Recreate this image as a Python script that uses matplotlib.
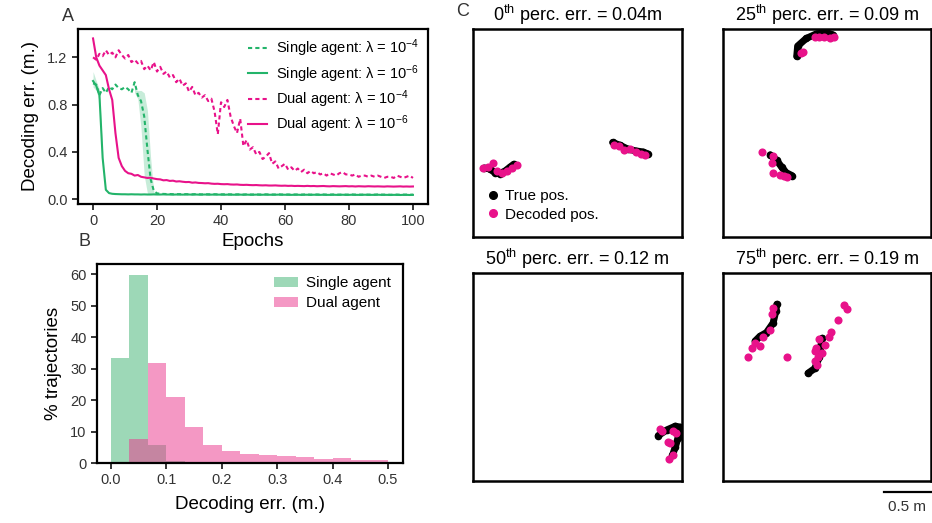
import numpy as np
import matplotlib
matplotlib.use('Agg')
import matplotlib.pyplot as plt
from matplotlib.lines import Line2D

plt.rcParams['font.family'] = ['Liberation Sans', 'DejaVu Sans']
plt.rcParams['mathtext.default'] = 'regular'

GREEN = '#23b46a'
PINK = '#e8128a'
TICK_GREY = '#333333'

# ---- Panel A: decoding error over training epochs ----
epochs = list(range(101))

single_l6 = [1.00, 0.96, 0.88, 0.35, 0.08, 0.052, 0.046, 0.044, 0.043, 0.042,
             0.042, 0.041, 0.042, 0.041, 0.041, 0.040, 0.041, 0.040, 0.040, 0.041,
             0.040, 0.040, 0.041, 0.040, 0.040, 0.039, 0.040, 0.040, 0.039, 0.040,
             0.040, 0.039, 0.040, 0.039, 0.039, 0.040, 0.039, 0.039, 0.040, 0.039,
             0.039, 0.038, 0.039, 0.039, 0.038, 0.039, 0.039, 0.038, 0.039, 0.038,
             0.038, 0.039, 0.038, 0.038, 0.039, 0.038, 0.038, 0.038, 0.039, 0.038,
             0.038, 0.038, 0.037, 0.038, 0.038, 0.037, 0.038, 0.038, 0.037, 0.038,
             0.038, 0.037, 0.038, 0.037, 0.037, 0.038, 0.037, 0.037, 0.038, 0.037,
             0.037, 0.038, 0.037, 0.037, 0.037, 0.038, 0.037, 0.037, 0.037, 0.038,
             0.037, 0.037, 0.037, 0.036, 0.037, 0.037, 0.036, 0.037, 0.037, 0.036, 0.037]

single_l4 = [0.98, 0.97, 0.88, 0.94, 0.90, 0.95, 0.93, 0.97, 0.94, 0.93,
             0.95, 0.93, 0.90, 0.99, 0.88, 0.83, 0.70, 0.42, 0.17, 0.07,
             0.050, 0.046, 0.045, 0.044, 0.044, 0.043, 0.043, 0.043, 0.042, 0.043,
             0.042, 0.042, 0.043, 0.042, 0.041, 0.042, 0.042, 0.041, 0.042, 0.041,
             0.041, 0.042, 0.041, 0.041, 0.040, 0.041, 0.041, 0.040, 0.041, 0.040,
             0.040, 0.041, 0.040, 0.040, 0.041, 0.040, 0.040, 0.040, 0.041, 0.040,
             0.040, 0.040, 0.039, 0.040, 0.040, 0.039, 0.040, 0.040, 0.039, 0.040,
             0.040, 0.039, 0.040, 0.039, 0.039, 0.040, 0.039, 0.039, 0.040, 0.039,
             0.039, 0.040, 0.039, 0.039, 0.039, 0.040, 0.039, 0.039, 0.039, 0.040,
             0.039, 0.039, 0.039, 0.038, 0.039, 0.039, 0.038, 0.039, 0.039, 0.038, 0.039]

dual_l6 = [1.36, 1.20, 1.13, 1.09, 1.05, 0.93, 0.84, 0.56, 0.35, 0.28,
           0.24, 0.22, 0.215, 0.20, 0.205, 0.19, 0.185, 0.18, 0.182, 0.175,
           0.17, 0.168, 0.16, 0.162, 0.155, 0.157, 0.15, 0.152, 0.148, 0.145,
           0.146, 0.14, 0.142, 0.138, 0.137, 0.135, 0.136, 0.132, 0.130, 0.131,
           0.128, 0.127, 0.128, 0.125, 0.124, 0.125, 0.122, 0.121, 0.122, 0.120,
           0.119, 0.120, 0.118, 0.117, 0.118, 0.116, 0.116, 0.117, 0.115, 0.114,
           0.115, 0.113, 0.114, 0.112, 0.113, 0.112, 0.111, 0.113, 0.111, 0.112,
           0.110, 0.111, 0.112, 0.110, 0.109, 0.111, 0.110, 0.109, 0.110, 0.111,
           0.109, 0.110, 0.108, 0.110, 0.109, 0.108, 0.110, 0.109, 0.108, 0.109,
           0.108, 0.107, 0.109, 0.108, 0.107, 0.108, 0.109, 0.107, 0.108, 0.107, 0.108]

dual_l4 = [1.20, 1.18, 1.23, 1.21, 1.26, 1.22, 1.24, 1.20, 1.26, 1.22,
           1.19, 1.22, 1.16, 1.18, 1.15, 1.17, 1.10, 1.13, 1.09, 1.16,
           1.08, 1.12, 1.06, 1.08, 1.03, 1.05, 0.99, 1.02, 0.96, 0.98,
           0.91, 0.95, 0.88, 0.90, 0.86, 0.88, 0.83, 0.85, 0.74, 0.55,
           0.82, 0.78, 0.84, 0.70, 0.62, 0.56, 0.68, 0.45, 0.50, 0.42,
           0.44, 0.38, 0.40, 0.34, 0.36, 0.39, 0.30, 0.32, 0.26, 0.28,
           0.30, 0.25, 0.27, 0.24, 0.26, 0.23, 0.25, 0.22, 0.24, 0.22,
           0.23, 0.21, 0.22, 0.20, 0.22, 0.21, 0.20, 0.22, 0.23, 0.21,
           0.21, 0.20, 0.21, 0.19, 0.20, 0.20, 0.19, 0.20, 0.19, 0.20,
           0.19, 0.18, 0.19, 0.19, 0.18, 0.20, 0.19, 0.18, 0.19, 0.20, 0.18]

# spread across seeds around the sharp drops
band_l4_epochs = [13, 14, 15, 16, 17, 18, 19, 20]
band_l4_upper = [0.93, 0.92, 0.92, 0.90, 0.75, 0.35, 0.06, 0.05]
band_l4_lower = [0.90, 0.85, 0.60, 0.20, 0.05, 0.045, 0.04, 0.04]
band_l6_epochs = [0, 1, 2, 3]
band_l6_upper = [1.08, 1.00, 0.93, 0.40]
band_l6_lower = [0.95, 0.92, 0.82, 0.30]

# ---- Panel B: histogram of decoding error ----
bin_edges = np.linspace(0, 0.5, 16)
single_hist = [33.5, 59.7, 5.8, 0.5, 0, 0, 0, 0, 0, 0, 0, 0, 0, 0, 0]
dual_hist = [0, 7.6, 31.9, 21.1, 11.4, 5.8, 3.9, 3.0, 2.7, 2.2, 1.9, 1.4, 1.6, 1.05, 1.05]

# ---- Panel C: example trajectories (metres, arena 2.2 m) ----
titles = ['0$^{th}$ perc. err. = 0.04m', '25$^{th}$ perc. err. = 0.09 m',
          '50$^{th}$ perc. err. = 0.12 m', '75$^{th}$ perc. err. = 0.19 m']

true_x = [
    [[0.12, 0.18, 0.23, 0.28, 0.34, 0.39, 0.43],
     [1.47, 1.55, 1.63, 1.72, 1.79, 1.84]],
    [[0.78, 0.79, 0.88, 0.99, 1.10, 1.16],
     [0.50, 0.57, 0.62, 0.67, 0.73]],
    [[1.95, 2.04, 2.13, 2.18, 2.16, 2.13, 2.10]],
    [[0.57, 0.56, 0.53, 0.46, 0.39, 0.34],
     [0.90, 0.97, 1.02, 1.04, 1.05]],
]
true_y = [
    [[0.73, 0.72, 0.68, 0.67, 0.70, 0.74, 0.77],
     [1.00, 0.97, 0.93, 0.91, 0.90, 0.88]],
    [[1.91, 2.02, 2.10, 2.15, 2.16, 2.14],
     [0.87, 0.81, 0.74, 0.68, 0.65]],
    [[0.48, 0.54, 0.58, 0.57, 0.46, 0.36, 0.27]],
    [[1.87, 1.80, 1.67, 1.57, 1.53, 1.48],
     [1.14, 1.19, 1.31, 1.45, 1.51]],
]
dec_x = [
    [0.11, 0.16, 0.21, 0.25, 0.31, 0.36, 0.41, 0.46,
     1.48, 1.54, 1.59, 1.65, 1.72, 1.77, 1.81],
    [0.83, 0.85, 0.97, 1.02, 1.07, 1.13, 1.17,
     0.41, 0.53, 0.52, 0.53, 0.60, 0.65, 0.68],
    [1.97, 1.99, 2.11, 2.14, 2.05, 2.07, 2.11, 2.06],
    [0.53, 0.52, 0.50, 0.42, 0.34, 0.39, 0.31, 0.27, 0.68,
     1.28, 1.31, 1.22, 1.14, 1.12, 1.02, 1.08, 0.98, 0.97, 1.05, 1.00, 0.97, 0.99],
]
dec_y = [
    [0.73, 0.74, 0.78, 0.70, 0.68, 0.70, 0.73, 0.76,
     0.97, 0.96, 0.92, 0.93, 0.90, 0.88, 0.87],
    [1.95, 1.96, 2.12, 2.12, 2.12, 2.11, 2.12,
     0.90, 0.86, 0.78, 0.68, 0.66, 0.65, 0.64],
    [0.55, 0.53, 0.53, 0.51, 0.41, 0.40, 0.27, 0.23],
    [1.83, 1.77, 1.60, 1.52, 1.46, 1.43, 1.41, 1.31, 1.31,
     1.86, 1.82, 1.70, 1.58, 1.52, 1.50, 1.44, 1.41, 1.37, 1.35, 1.31, 1.27, 1.23],
]
arena = 2.2
scale_bar = 0.5


def style_box(ax, lw=1.6):
    for s in ax.spines.values():
        s.set_linewidth(lw)
        s.set_color('black')


fig = plt.figure(figsize=(9.32, 5.23), dpi=100)

# Panel A
ax = fig.add_axes([0.0837, 0.610, 0.3755, 0.3346])
ax.fill_between(band_l4_epochs, band_l4_lower, band_l4_upper, color=GREEN, alpha=0.25, lw=0)
ax.fill_between(band_l6_epochs, band_l6_lower, band_l6_upper, color=GREEN, alpha=0.25, lw=0)
ax.plot(epochs, single_l4, color=GREEN, lw=1.5, ls=(0, (2.0, 1.5)), label='Single agent: λ = 10$^{-4}$')
ax.plot(epochs, single_l6, color=GREEN, lw=1.5, label='Single agent: λ = 10$^{-6}$')
ax.plot(epochs, dual_l4, color=PINK, lw=1.5, ls=(0, (2.0, 1.5)), label='Dual agent: λ = 10$^{-4}$')
ax.plot(epochs, dual_l6, color=PINK, lw=1.5, label='Dual agent: λ = 10$^{-6}$')
ax.set_xlim(-4.7, 104.7)
ax.set_ylim(-0.04, 1.44)
ax.set_xticks([0, 20, 40, 60, 80, 100])
ax.set_yticks([0.0, 0.4, 0.8, 1.2])
ax.set_xlabel('Epochs', fontsize=13.5, labelpad=3)
ax.set_ylabel('Decoding err. (m.)', fontsize=13.5, labelpad=6)
ax.tick_params(direction='out', length=4, width=1.1, labelsize=10.5, labelcolor=TICK_GREY)
style_box(ax)
ax.legend(loc='upper right', frameon=False, fontsize=10.5, handlelength=1.3,
          handletextpad=0.6, labelspacing=0.25, borderaxespad=0.2)

# Panel B
bx = fig.add_axes([0.1041, 0.1147, 0.3283, 0.3805])
bx.bar(bin_edges[:-1], single_hist, width=np.diff(bin_edges), align='edge',
       color='#3cb371', alpha=0.5, lw=0, label='Single agent')
bx.bar(bin_edges[:-1], dual_hist, width=np.diff(bin_edges), align='edge',
       color='#ea3a8e', alpha=0.52, lw=0, label='Dual agent')
bx.set_xlim(-0.025, 0.527)
bx.set_ylim(0, 63.2)
bx.set_xticks([0.0, 0.1, 0.2, 0.3, 0.4, 0.5])
bx.set_yticks([0, 10, 20, 30, 40, 50, 60])
bx.set_xlabel('Decoding err. (m.)', fontsize=13.5, labelpad=6)
bx.set_ylabel('% trajectories', fontsize=13.5, labelpad=6)
bx.tick_params(direction='out', length=4, width=1.1, labelsize=10.5, labelcolor=TICK_GREY)
style_box(bx)
bx.legend(loc='upper right', frameon=False, fontsize=11, handlelength=1.6,
          handletextpad=0.5, labelspacing=0.4, borderaxespad=0.4)

# Panel C
boxes = [[0.5075, 0.5468, 0.2242, 0.3977], [0.7757, 0.5468, 0.2232, 0.3977],
         [0.5075, 0.0803, 0.2242, 0.3977], [0.7757, 0.0803, 0.2232, 0.3977]]
for i, pos in enumerate(boxes):
    cx = fig.add_axes(pos)
    for tx, ty in zip(true_x[i], true_y[i]):
        cx.plot(tx, ty, color='black', lw=5, solid_capstyle='round', zorder=2)
        cx.scatter(tx, ty, s=30, color='black', lw=0, zorder=2)
    cx.scatter(dec_x[i], dec_y[i], s=34, color=PINK, lw=0, zorder=3)
    cx.set_xlim(0, arena)
    cx.set_ylim(0, arena)
    cx.set_xticks([])
    cx.set_yticks([])
    style_box(cx, lw=1.8)
    cx.set_title(titles[i], fontsize=13, pad=6)
    if i == 0:
        handles = [Line2D([], [], ls='', marker='o', ms=5.5, color='black'),
                   Line2D([], [], ls='', marker='o', ms=5.5, color=PINK)]
        cx.legend(handles, ['True pos.', 'Decoded pos.'], loc='lower left', frameon=False,
                  fontsize=11, handlelength=0.6, handletextpad=0.5, labelspacing=0.3,
                  borderaxespad=0.6)
    if i == 3:
        cx.plot([arena - scale_bar, arena], [-0.12, -0.12], color='black', lw=1.6, clip_on=False)
        cx.text(arena - scale_bar / 2, -0.2, '0.5 m', ha='center', va='top', fontsize=11,
                color=TICK_GREY)

fig.text(0.066, 0.985, 'A', fontsize=13, va='top', ha='left', color=TICK_GREY)
fig.text(0.084, 0.555, 'B', fontsize=13, va='top', ha='left', color=TICK_GREY)
fig.text(0.489, 0.995, 'C', fontsize=13, va='top', ha='left', color=TICK_GREY)

fig.savefig('out.png', dpi=100)
